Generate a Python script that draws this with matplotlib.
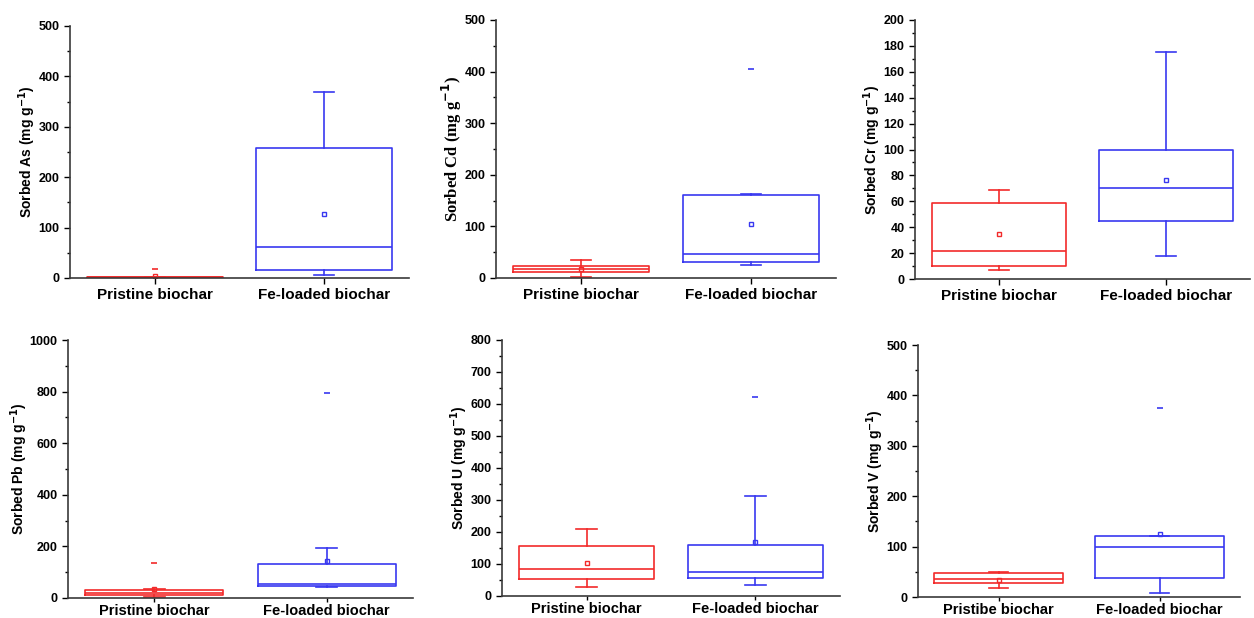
import matplotlib.pyplot as plt
from matplotlib.ticker import MultipleLocator

plt.rcParams['font.family'] = ['Liberation Sans', 'DejaVu Sans']
plt.rcParams['font.weight'] = 'bold'
plt.rcParams['mathtext.default'] = 'bf'

# box stats: whislo, q1, med, q3, whishi, mean, fliers
metals = ['As', 'Cd', 'Cr', 'Pb', 'U', 'V']
pristine_labels = ['Pristine biochar'] * 5 + ['Pristibe biochar']
fe_label = 'Fe-loaded biochar'

pristine_whislo = [0.5, 1, 7, 2, 27, 17]
pristine_q1 = [0.8, 12, 10, 10, 52, 27]
pristine_med = [1.2, 17, 21.5, 20, 85, 35]
pristine_q3 = [1.8, 24, 58.5, 32, 155, 47]
pristine_whishi = [2, 35, 68.5, 34, 208, 49]
pristine_mean = [3, 17, 34.5, 36, 103, 33]
pristine_fliers = [[17], [], [], [135], [], []]

fe_whislo = [5, 25, 18, 42, 35, 8]
fe_q1 = [15, 31, 45, 45, 55, 37]
fe_med = [61, 47, 70.5, 55, 75, 100]
fe_q3 = [258, 161, 100, 130, 158, 122]
fe_whishi = [370, 163, 175, 195, 313, 122]
fe_mean = [126, 105, 76.5, 142, 168, 125]
fe_fliers = [[], [405], [], [795], [623], [375]]

ymax = [500, 500, 200, 1000, 800, 500]
ymajor = [100, 100, 20, 200, 100, 100]

# axes rectangles in pixels (left, right, top, bottom)
W, H = 1254, 618
boxes = [(70, 409, 26, 278), (496, 836, 20, 278), (915, 1250, 20, 279),
         (68, 413, 340, 598), (502, 840, 340, 596), (918, 1240, 345, 597)]

red = '#f22a2a'
blue = '#3838f0'

fig = plt.figure(figsize=(W / 100, H / 100), dpi=100)

for i, m in enumerate(metals):
    l, r, t, b = boxes[i]
    ax = fig.add_axes([l / W, 1 - b / H, (r - l) / W, (b - t) / H])
    stats = [
        dict(whislo=pristine_whislo[i], q1=pristine_q1[i], med=pristine_med[i],
             q3=pristine_q3[i], whishi=pristine_whishi[i], mean=pristine_mean[i],
             fliers=pristine_fliers[i]),
        dict(whislo=fe_whislo[i], q1=fe_q1[i], med=fe_med[i],
             q3=fe_q3[i], whishi=fe_whishi[i], mean=fe_mean[i],
             fliers=fe_fliers[i]),
    ]
    for j, col in enumerate([red, blue]):
        ax.bxp([stats[j]], positions=[j + 1], widths=0.8, showmeans=True,
               boxprops=dict(color=col, lw=1.2),
               medianprops=dict(color=col, lw=1.2),
               whiskerprops=dict(color=col, lw=1.2),
               capprops=dict(color=col, lw=1.2),
               capwidths=0.12,
               meanprops=dict(marker='s', markersize=3.5, markerfacecolor='none',
                              markeredgecolor=col, markeredgewidth=1),
               flierprops=dict(marker='_', markersize=5, markeredgecolor=col,
                               markeredgewidth=1.2))
    ax.set_xlim(0.5, 2.5)
    ax.set_ylim(0, ymax[i])
    ax.set_xticks([1, 2])
    bottom_row = i >= 3
    ax.set_xticklabels([pristine_labels[i], fe_label],
                       fontsize=10.5 if bottom_row else 11, fontweight='bold')
    ax.yaxis.set_major_locator(MultipleLocator(ymajor[i]))
    ax.yaxis.set_minor_locator(MultipleLocator(ymajor[i] / 2))
    ax.tick_params(axis='y', labelsize=9, direction='out', length=4, width=1)
    ax.tick_params(axis='y', which='minor', length=2.5, width=1)
    ax.tick_params(axis='x', direction='out', length=3 if bottom_row else 4,
                   width=1, pad=1 if bottom_row else 3)
    for lbl in ax.get_yticklabels():
        lbl.set_fontweight('bold')
    ax.spines['top'].set_visible(False)
    ax.spines['right'].set_visible(False)
    for s in ['left', 'bottom']:
        ax.spines[s].set_color('#3a3a3a')
        ax.spines[s].set_linewidth(1.2)
    if m == 'Cd':
        ax.set_ylabel(r'Sorbed Cd (mg g$^{\mathbf{-1}}$)', fontsize=12,
                      fontweight='bold', family='Liberation Serif', labelpad=0)
    else:
        ax.set_ylabel(r'Sorbed %s (mg g$^{-1}$)' % m, fontsize=10,
                      fontweight='bold', labelpad=0)

fig.savefig('out.png', dpi=100)
